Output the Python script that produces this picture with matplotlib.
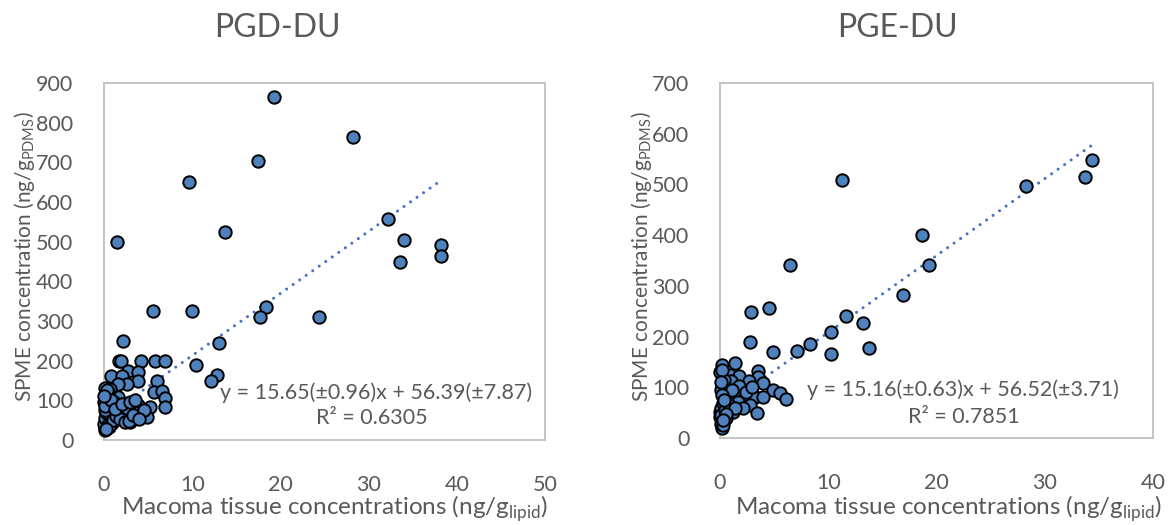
import matplotlib.pyplot as plt
import numpy as np

plt.rcParams['font.family'] = ['Lato', 'DejaVu Sans']
plt.rcParams['mathtext.fontset'] = 'custom'
plt.rcParams['mathtext.rm'] = 'Lato'

# PGD-DU: Macoma tissue (ng/g lipid) vs SPME (ng/g PDMS)
pgd_x = [19.3, 28.2, 17.5, 9.6, 32.2, 13.7, 34.0, 38.2, 38.2, 33.6,
         1.5, 5.6, 10.0, 18.4, 17.7, 24.4, 2.1, 13.0, 1.7, 1.9,
         4.2, 5.8, 6.9, 10.4, 2.7, 3.9, 0.8, 2.0, 12.8, 12.1,
         3.9, 2.6, 1.6, 6.0, 5.7, 6.6, 6.9, 6.9, 0.4, 1.6,
         0.1, 0.7, 3.9, 5.2, 4.9, 3.7, 3.0, 1.2, 2.2, 0.1,
         0.1, 0.9, 0.4, 1.6, 2.6, 0.0, 0.3, 2.9, 0.1, 0.2,
         0.05, 0.3, 0.15, 0.5, 0.2, 0.1, 0.6, 0.3, 0.2, 0.5,
         0.3, 0.1, 0.4, 0.6, 1.0, 1.4, 1.8, 2.4, 2.8, 3.3,
         1.1, 0.8, 1.3, 2.0, 2.9, 3.5, 4.5, 4.0, 0.2, 0.0]
pgd_y = [865, 764, 703, 650, 558, 525, 503, 492, 465, 449,
         500, 325, 325, 335, 310, 310, 249, 244, 200, 200,
         198, 198, 198, 190, 175, 172, 162, 162, 165, 150,
         150, 142, 142, 150, 122, 124, 107, 84, 114, 109,
         132, 129, 89, 84, 58, 68, 56, 71, 58, 46,
         25, 43, 81, 84, 81, 96, 61, 46, 30, 35,
         40, 50, 55, 65, 70, 75, 90, 100, 105, 120,
         125, 85, 38, 32, 50, 60, 52, 45, 48, 62,
         95, 100, 78, 90, 95, 100, 75, 52, 28, 110]

# PGE-DU
pge_x = [34.4, 33.7, 28.3, 11.3, 18.7, 19.3, 6.5, 16.9, 2.9, 4.5,
         11.6, 13.2, 2.8, 4.9, 7.1, 8.3, 10.3, 10.3, 13.8, 1.4,
         3.5, 0.2, 0.0, 0.9, 1.8, 3.5, 2.7, 4.0, 1.0, 0.2,
         1.8, 4.9, 5.5, 6.1, 0.7, 1.6, 2.3, 3.2, 4.0, 2.8,
         1.7, 3.4, 1.2, 2.1, 0.0, 0.0, 0.2, 0.2, 0.6, 0.1,
         0.3, 0.1, 0.4, 0.2, 0.05, 0.3, 0.1, 0.5, 0.8, 1.1,
         2.4, 3.0, 0.2, 0.4, 0.1, 1.4, 0.6, 0.3]
pge_y = [548, 515, 497, 509, 400, 341, 341, 282, 248, 256,
         240, 227, 189, 169, 172, 185, 209, 165, 177, 148,
         132, 144, 130, 124, 122, 121, 112, 109, 112, 104,
         102, 95, 88, 77, 89, 81, 79, 81, 81, 65,
         71, 49, 51, 59, 51, 41, 32, 20, 39, 60,
         70, 95, 115, 135, 28, 25, 45, 55, 65, 95,
         90, 100, 85, 75, 110, 60, 48, 36]

# trendline coefficients from the regression
pgd_fit = (15.65, 56.39)
pge_fit = (15.16, 56.52)

TXT = '#595959'
EDGE = '#bfbfbf'


def draw_panel(ax, xs, ys, fit, xmax, ymax, eq, r2, eq_pos, r2_pos):
    slope, icpt = fit
    xl = np.array([0, max(xs)])
    ax.plot(xl, slope * xl + icpt, color='#4472c4', lw=2.2,
            ls=(0, (0.01, 2.6)), dash_capstyle='round', zorder=2)
    ax.scatter(xs, ys, s=80, color='#4f81bd', edgecolor='black',
               linewidth=1.4, zorder=3, clip_on=False)
    ax.set_xlim(0, xmax)
    ax.set_ylim(0, ymax)
    ax.set_xticks(np.arange(0, xmax + 1, 10))
    ax.set_yticks(np.arange(0, ymax + 1, 100))
    ax.tick_params(length=0, labelsize=15.5, labelcolor=TXT)
    ax.tick_params(axis='x', pad=25)
    ax.tick_params(axis='y', pad=22)
    for sp in ax.spines.values():
        sp.set_color(EDGE)
        sp.set_linewidth(1.3)
    ax.text(*eq_pos, eq, transform=ax.transData, ha='center', va='center',
            fontsize=15.5, color=TXT)
    ax.text(*r2_pos, r2, transform=ax.transData, ha='center', va='center',
            fontsize=15.5, color=TXT)


fig = plt.figure(figsize=(11.73, 5.25), dpi=100)
ax1 = fig.add_axes([104 / 1173, 1 - 440 / 525, 441 / 1173, 357 / 525])
ax2 = fig.add_axes([720 / 1173, 1 - 438 / 525, 433 / 1173, 355 / 525])

draw_panel(ax1, pgd_x, pgd_y, pgd_fit, 50, 900,
           'y = 15.65(±0.96)x + 56.39(±7.87)', 'R² = 0.6305',
           (30.8, 119), (30.4, 56))
draw_panel(ax2, pge_x, pge_y, pge_fit, 40, 700,
           'y = 15.16(±0.63)x + 56.52(±3.71)', 'R² = 0.7851',
           (22.4, 95), (22.5, 41))

ylab = r'SPME concentration (ng/g$_\mathregular{PDMS}$)'
xlab = r'Macoma tissue concentrations (ng/g$_\mathregular{lipid}$)'
fig.text(25 / 1173, 1 - 257 / 525, ylab, rotation=90, ha='center',
         va='center', fontsize=15, color=TXT)
fig.text(641 / 1173, 1 - 257 / 525, ylab, rotation=90, ha='center',
         va='center', fontsize=15, color=TXT)
fig.text(334 / 1173, 1 - 509 / 525, xlab, ha='center', va='center',
         fontsize=17.5, color=TXT)
fig.text(948 / 1173, 1 - 509 / 525, xlab, ha='center', va='center',
         fontsize=17.5, color=TXT)

fig.text(277 / 1173, 1 - 28 / 525, 'PGD-DU', ha='center', va='center',
         fontsize=23, color=TXT)
fig.text(897 / 1173, 1 - 28 / 525, 'PGE-DU', ha='center', va='center',
         fontsize=23, color=TXT)

fig.savefig('out.png', dpi=100)
